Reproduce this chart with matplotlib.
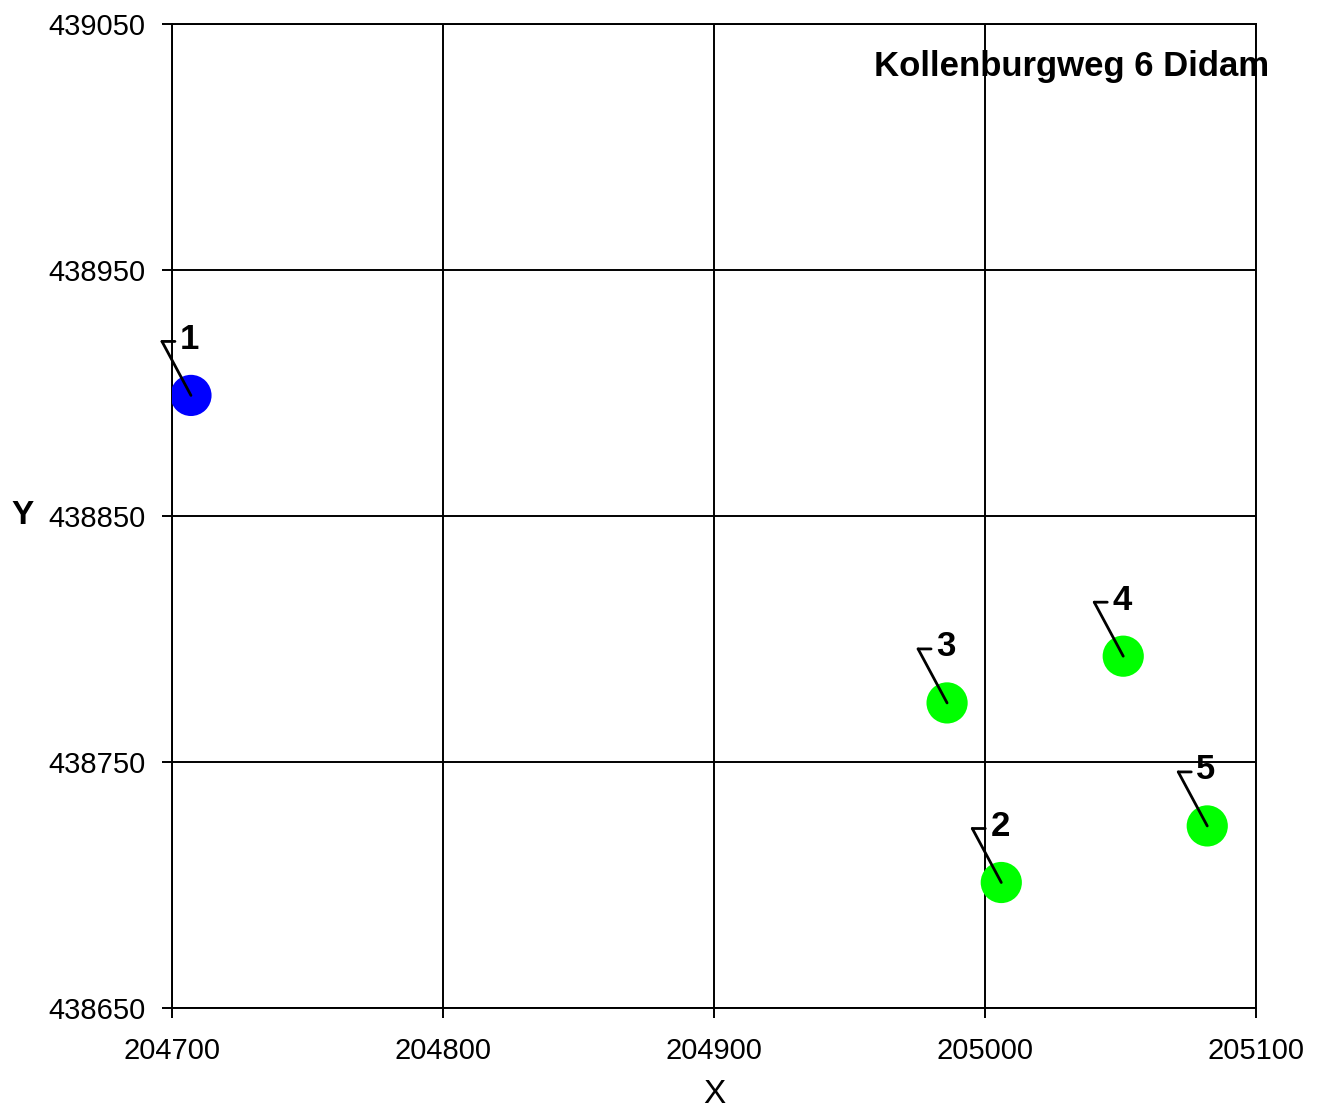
import matplotlib
matplotlib.use('Agg')
import matplotlib.pyplot as plt
from matplotlib.transforms import offset_copy

plt.rcParams['font.family'] = ['Liberation Sans', 'DejaVu Sans']

# point data (RD coordinates)
labels = ['1', '2', '3', '4', '5']
xs = [204707, 205006, 204986, 205051, 205082]
ys = [438899, 438701, 438774, 438793, 438724]
colors = ['#0000ff', '#00ff00', '#00ff00', '#00ff00', '#00ff00']

xticks = [204700, 204800, 204900, 205000, 205100]
yticks = [438650, 438750, 438850, 438950, 439050]
title = 'Kollenburgweg 6 Didam'

fig = plt.figure(figsize=(13.22, 11.15), dpi=100)
ax = fig.add_axes([0.1301, 0.0960, 0.8200, 0.8825])

ax.set_xlim(204700, 205100)
ax.set_ylim(438650, 439050)
ax.set_xticks(xticks)
ax.set_yticks(yticks)
ax.grid(True, color='black', linewidth=1.4)
ax.set_axisbelow(True)
for s in ax.spines.values():
    s.set_linewidth(1.4)
ax.tick_params(direction='out', length=7, width=1.4, labelsize=21)
ax.tick_params(axis='x', pad=14)
ax.tick_params(axis='y', pad=12)

ax.scatter(xs, ys, s=880, c=colors, zorder=3, linewidths=0)

# leader lines + labels
dx, dy = -29, 54
for lab, x, y in zip(labels, xs, ys):
    ax.annotate('', xy=(x, y), xytext=(dx, dy), textcoords='offset pixels',
                arrowprops=dict(arrowstyle='-', color='black', lw=2,
                                shrinkA=0, shrinkB=0), zorder=4)
    corner = offset_copy(ax.transData, fig=fig, x=dx, y=dy, units='dots')
    ax.annotate('', xy=(x, y), xycoords=corner, xytext=(13, 0),
                textcoords='offset pixels',
                arrowprops=dict(arrowstyle='-', color='black', lw=2,
                                shrinkA=0, shrinkB=0), zorder=4)
    ax.annotate(lab, xy=(x, y), xytext=(dx + 18, dy + 2), textcoords='offset pixels',
                ha='left', va='center', fontsize=25, fontweight='bold', zorder=5)

ax.text(1.012, 0.957, title, transform=ax.transAxes, ha='right', va='center',
        fontsize=25, fontweight='bold')

ax.set_xlabel('X', fontsize=24, labelpad=10)
ax.set_ylabel('Y', fontsize=24, fontweight='bold', rotation=0, va='center')
ax.yaxis.set_label_coords(-0.138, 0.5)

fig.savefig('out.png', dpi=100)
